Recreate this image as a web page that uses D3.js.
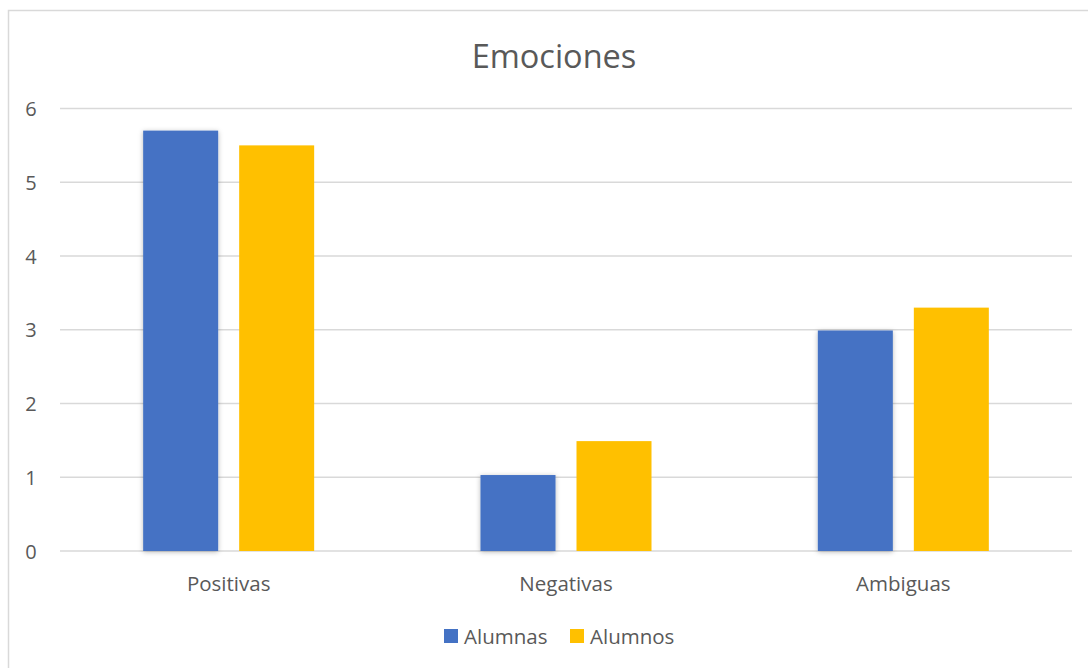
<!DOCTYPE html>
<html>
<head>
<meta charset="utf-8">
<script src="https://cdn.jsdelivr.net/npm/d3@7"></script>
<style>
  html, body { margin: 0; padding: 0; background: #fff; }
  svg { display: block; }
  text { font-family: "Open Sans", "Noto Sans", sans-serif; fill: #595959; }
</style>
</head>
<body>
<div id="chart"></div>
<script>
// Chart data
const categories = ["Positivas", "Negativas", "Ambiguas"];
const seriesNames = ["Alumnas", "Alumnos"];
const alumnas = [5.7, 1.03, 2.99];
const alumnos = [5.5, 1.49, 3.3];
const yTicks = [0, 1, 2, 3, 4, 5, 6];
const colors = ["#4472C4", "#FFC000"];
const chartTitle = "Emociones";

const width = 1088, height = 668;
const plot = { left: 60, right: 1072, top: 108.5, bottom: 551 };

const svg = d3.select("#chart").append("svg")
  .attr("width", width).attr("height", height);

// soft shadow used on the blue bars
const defs = svg.append("defs");
const f = defs.append("filter").attr("id", "shadow")
  .attr("x", "-20%").attr("y", "-10%").attr("width", "140%").attr("height", "120%");
f.append("feDropShadow").attr("dx", 0).attr("dy", 1).attr("stdDeviation", 2.5)
  .attr("flood-color", "#000").attr("flood-opacity", 0.28);

// outer chart frame
svg.append("rect")
  .attr("x", 8.5).attr("y", 10.5).attr("width", 1200).attr("height", 800)
  .attr("fill", "none").attr("stroke", "#D9D9D9").attr("stroke-width", 1.5);

const y = d3.scaleLinear().domain([0, 6]).range([plot.bottom, plot.top]);
const x0 = d3.scaleBand().domain(categories).range([plot.left, plot.right]).padding(0);
const groupW = 171;
const x1 = d3.scaleBand().domain(seriesNames)
  .range([(x0.bandwidth() - groupW) / 2, (x0.bandwidth() + groupW) / 2])
  .paddingInner(0.21875).paddingOuter(0);

// gridlines
svg.append("g").selectAll("line").data(yTicks).join("line")
  .attr("x1", plot.left).attr("x2", plot.right)
  .attr("y1", d => y(d)).attr("y2", d => y(d))
  .attr("stroke", "#D9D9D9").attr("stroke-width", 1.5);

// y tick labels
svg.append("g").selectAll("text").data(yTicks).join("text")
  .attr("x", 31).attr("y", d => y(d))
  .attr("text-anchor", "middle").attr("dominant-baseline", "central")
  .style("font-size", "20px")
  .text(d => d);

// bars
const rows = categories.map((c, i) => ({ cat: c, vals: [alumnas[i], alumnos[i]] }));
const groups = svg.append("g").selectAll("g").data(rows).join("g")
  .attr("transform", d => `translate(${x0(d.cat)},0)`);
groups.selectAll("rect").data(d => d.vals.map((v, j) => ({ s: seriesNames[j], v, j })))
  .join("rect")
  .attr("x", d => x1(d.s)).attr("width", x1.bandwidth())
  .attr("y", d => y(d.v)).attr("height", d => y(0) - y(d.v))
  .attr("fill", d => colors[d.j])
  .attr("filter", d => d.j === 0 ? "url(#shadow)" : null);

// category labels
svg.append("g").selectAll("text").data(categories).join("text")
  .attr("x", d => x0(d) + x0.bandwidth() / 2).attr("y", 583)
  .attr("text-anchor", "middle").attr("dominant-baseline", "central")
  .style("font-size", "20.5px")
  .text(d => d);

// title
svg.append("text")
  .attr("x", 554).attr("y", 55)
  .attr("text-anchor", "middle").attr("dominant-baseline", "central")
  .style("font-size", "32.5px")
  .text(chartTitle);

// legend
const legendItems = [{ name: seriesNames[0], x: 444 }, { name: seriesNames[1], x: 570 }];
const lg = svg.append("g").selectAll("g").data(legendItems).join("g")
  .attr("transform", d => `translate(${d.x},629)`);
lg.append("rect").attr("width", 14).attr("height", 14)
  .attr("fill", (d, i) => colors[i]);
lg.append("text").attr("x", 20).attr("y", 7)
  .attr("dominant-baseline", "central")
  .style("font-size", "20.5px")
  .text(d => d.name);
</script>
</body>
</html>
